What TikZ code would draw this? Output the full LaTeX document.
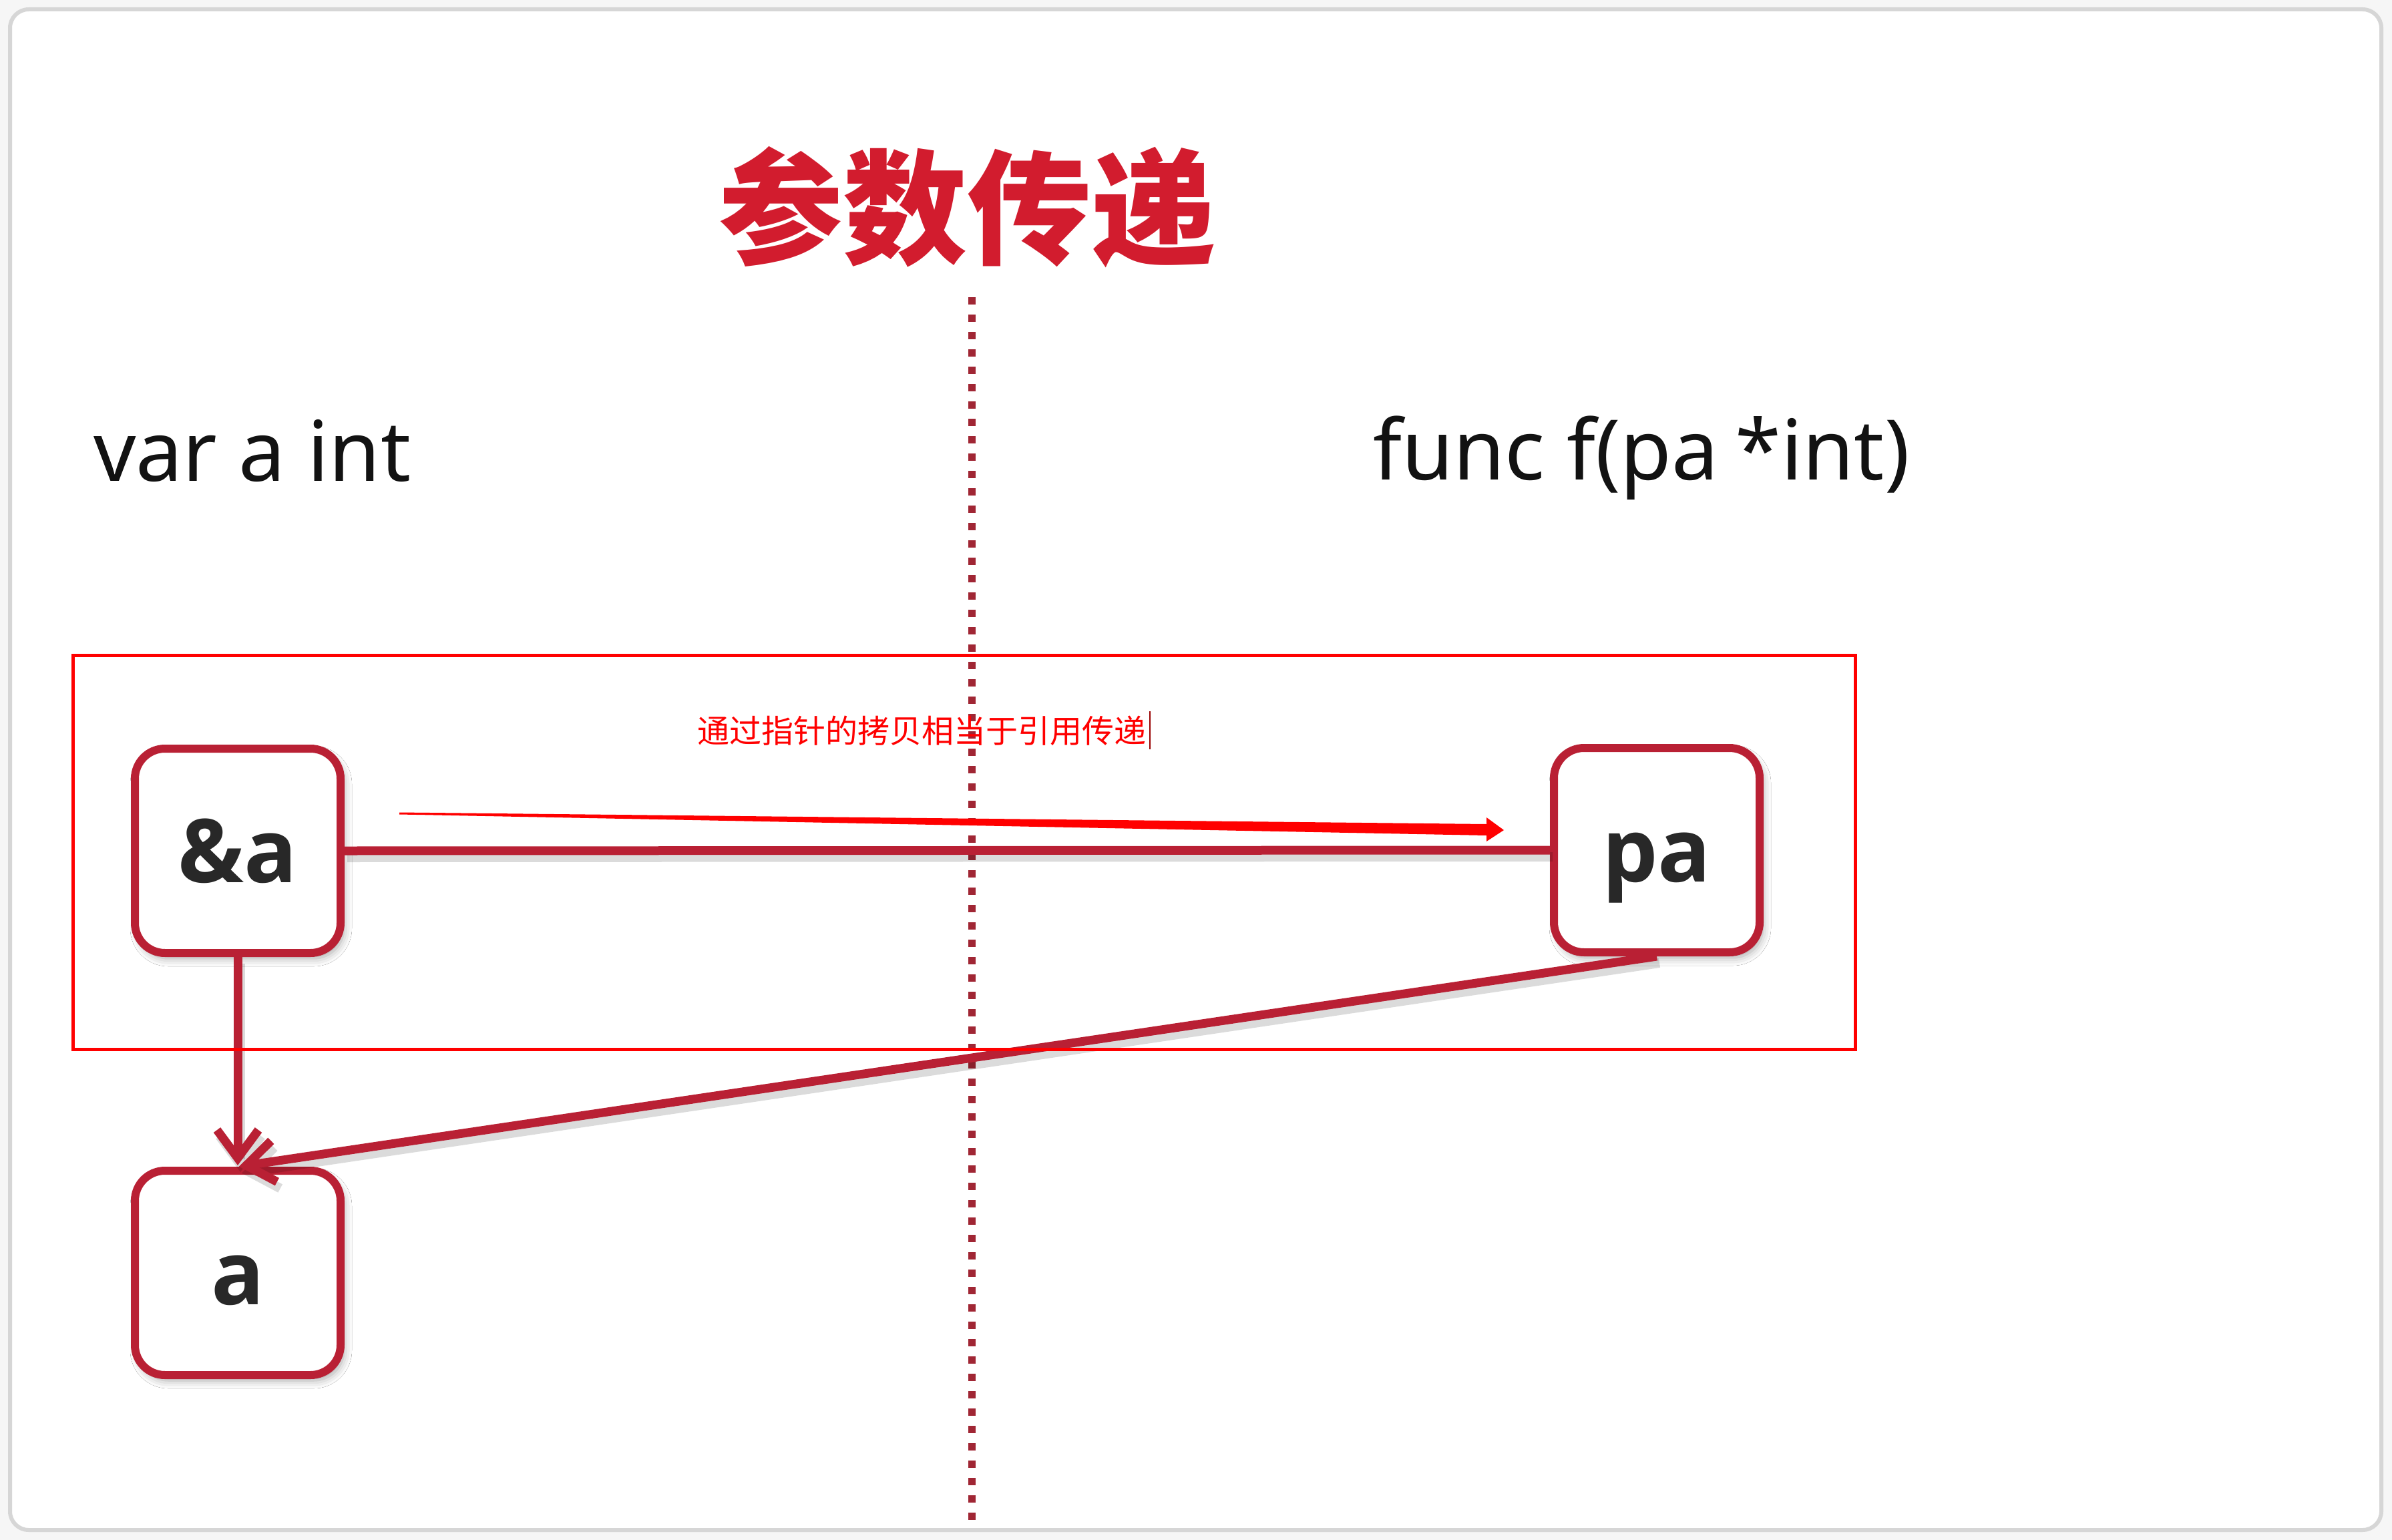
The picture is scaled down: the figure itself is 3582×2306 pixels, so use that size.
\documentclass[tikz,border=0pt]{standalone}
\usepackage{fontspec}
\setmainfont{Noto Sans}
\newfontfamily\cjk{Noto Sans CJK SC}
\newfontfamily\boxfont{Open Sans}
\usetikzlibrary{arrows.meta,shadows.blur,calc}
\definecolor{crim}{RGB}{185,32,52}
\definecolor{titlered}{RGB}{210,28,46}
\definecolor{dotred}{RGB}{160,38,52}
\definecolor{bggray}{RGB}{246,246,246}
\definecolor{cardline}{RGB}{214,214,214}
\definecolor{txt}{RGB}{18,18,18}
\definecolor{boxtxt}{RGB}{40,40,40}
\definecolor{annored}{RGB}{255,0,0}
\begin{document}
\begin{tikzpicture}[x=1pt,y=-1pt,
  varbox/.style={draw=crim, line width=12pt, fill=white, rounded corners=45pt,
    minimum width=308pt, minimum height=306pt, inner sep=0pt,
    text height=100pt, text depth=6pt,
    font=\boxfont\bfseries\fontsize{132}{150}\selectfont, text=boxtxt,
    blur shadow={shadow xshift=5pt, shadow yshift=-8pt, shadow blur radius=12pt, shadow opacity=35}},
  link/.style={draw=crim, line width=13pt,
    preaction={draw=black, opacity=0.14, line width=14pt, transform canvas={xshift=4pt,yshift=-10pt}}},
  linkarrow/.style={link, -{Straight Barb[length=42pt,width=62pt]}, shorten >=2pt},
  heading/.style={font=\fontsize{125}{150}\selectfont, text=txt, inner sep=0pt},
  annotext/.style={font=\cjk\fontsize{48}{56}\selectfont, text=annored, inner sep=0pt},
]
% background and card
\fill[bggray] (0,0) rectangle (3582,2306);
\useasboundingbox (0,0) rectangle (3582,2306);
\draw[cardline, line width=6pt, fill=white, rounded corners=28pt] (15,14) rectangle (3566,2291);

% title
\node[font=\cjk\bfseries\fontsize{186}{200}\selectfont, text=titlered, inner sep=0pt] (title) at (1448,310) {参数传递};

% dotted divider
\coordinate (dtop) at (1455,445);
\coordinate (dbot) at (1455,2286);
\draw[dotred, line width=11pt, dash pattern=on 11pt off 15pt] (dtop) -- (dbot);

% headings
\node[heading, anchor=base west] (left) at (140,720) {var a int};
\node[heading, anchor=base west] (right) at (2056,718) {func f(pa\hspace{0.2em}*int)};

% boxes
\node[varbox] (amp) at (356,1274) {\&a};
\node[varbox] (pa) at (2481,1273) {pa};
\node[varbox] (a) at (356,1906) {a};

% connectors
\draw[link] (amp.east) -- (pa.west);
\draw[linkarrow] (amp.south) -- (a.north);
\draw[linkarrow] (pa.south) -- (a.north);

% red annotation frame
\node[draw=annored, line width=5pt, minimum width=2669pt, minimum height=590pt, inner sep=0pt] (frame) at (1443.5,1276.5) {};

% annotation label and cursor
\node[annotext] (note) at (1380,1094) {通过指针的拷贝相当于引用传递};
\coordinate (curtop) at (1722,1065);
\coordinate (curbot) at (1722,1122);
\draw[annored!60!black, line width=2pt] (curtop) -- (curbot);

% tapered hand-drawn arrow
\coordinate (ts) at (598,1218);
\coordinate (te) at (2252,1243);
\fill[annored] ($(ts)+(0,-1.5)$) -- (2226,1234) -- (2226,1224) -- (te) -- (2226,1260) -- (2226,1251) -- ($(ts)+(0,1.5)$) -- cycle;
\end{tikzpicture}
\end{document}
